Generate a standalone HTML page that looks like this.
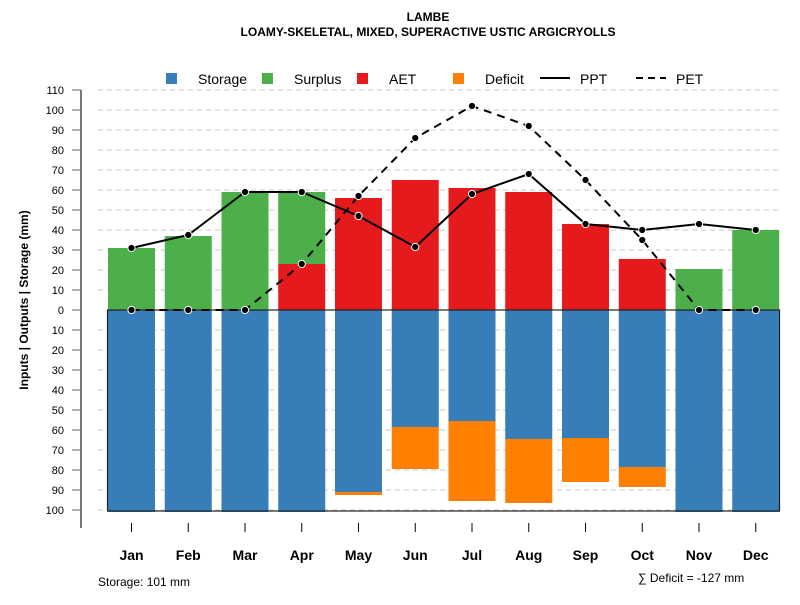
<!DOCTYPE html>
<html><head><meta charset="utf-8"><style>
body{margin:0;background:#fff;}
svg text{font-family:"Liberation Sans",Arial,sans-serif;}
</style></head><body>
<svg id="chart" width="800" height="600" xmlns="http://www.w3.org/2000/svg">
<text x="428" y="21" font-size="12" font-weight="bold" text-anchor="middle">LAMBE</text>
<text x="428" y="36" font-size="12" font-weight="bold" text-anchor="middle">LOAMY-SKELETAL, MIXED, SUPERACTIVE USTIC ARGICRYOLLS</text>
<g id="legend">
<rect x="166" y="73" width="11" height="11" fill="#377eb8"/><text x="198" y="84" font-size="14">Storage</text>
<rect x="262" y="73" width="11" height="11" fill="#4daf4a"/><text x="294" y="84" font-size="14">Surplus</text>
<rect x="357" y="73" width="11" height="11" fill="#e41a1c"/><text x="389" y="84" font-size="14">AET</text>
<rect x="453" y="73" width="11" height="11" fill="#ff7f00"/><text x="485" y="84" font-size="14">Deficit</text>
<line x1="540" y1="78" x2="570" y2="78" stroke="#000" stroke-width="2"/><text x="580" y="84" font-size="14">PPT</text>
<line x1="636" y1="78" x2="666" y2="78" stroke="#000" stroke-width="2" stroke-dasharray="7,5"/><text x="676" y="84" font-size="14">PET</text>
</g>
<g id="grid"></g><g id="bars"></g><g id="lines"></g><g id="axes"></g>
<text transform="translate(28,300) rotate(-90)" font-size="12" font-weight="bold" text-anchor="middle">Inputs | Outputs | Storage    (mm)</text>
<text x="98" y="586" font-size="12">Storage: 101 mm</text>
<text x="638" y="582" font-size="12">∑ Deficit = -127 mm</text>
</svg>
<script>
const months=["Jan","Feb","Mar","Apr","May","Jun","Jul","Aug","Sep","Oct","Nov","Dec"];
const storage=[101,101,101,101,91,58.5,55.5,64.5,64,78.5,101,101];
const deficit=[0,0,0,0,1.5,21,40,32,22,10,0,0];
const aet=[0,0,0,23,56,65,61,59,43,25.5,0,0];
const surplus=[31,37,59,36,0,0,0,0,0,0,20.5,40];
const ppt=[31,37.5,59,59,47,31.5,58,68,43,40,43,40];
const pet=[0,0,0,23,57,86,102,92,65,35,0,0];
const tickVals=[110,100,90,80,70,60,50,40,30,20,10,0,-10,-20,-30,-40,-50,-60,-70,-80,-90,-100];
const NS="http://www.w3.org/2000/svg";
function X(i){return 131.5+56.75*i;}
function Y(v){return 310-2*v;}
function mk(p,t,a){const e=document.createElementNS(NS,t);for(const k in a)e.setAttribute(k,a[k]);document.getElementById(p).appendChild(e);return e;}
tickVals.forEach(v=>{
  if(v!==0){const g=mk('grid','line',{x1:98,x2:780,y1:Y(v),y2:Y(v),stroke:'#c8c8c8','stroke-dasharray':'5,4'});
  
  }
  const t=mk('axes','line',{x1:72,x2:81,y1:Y(v),y2:Y(v),stroke:'#666'});
  
  
  const l=mk('axes','text',{x:64,y:Y(v)+4,'font-size':11,'text-anchor':'end'});
  l.textContent=Math.abs(v);
  
  
});
const ax=mk('axes','line',{x1:81,x2:81,y1:Y(110),y2:528,stroke:'#777','stroke-width':2});


const W=47;
months.forEach((m,i)=>{
  const x=X(i)-W/2;
  const s=mk('bars','rect',{x:x,y:310,width:W,height:2*storage[i],fill:'#377eb8'});
  
  
  if(deficit[i]>0){const d=mk('bars','rect',{x:x,y:310+2*storage[i],width:W,height:2*deficit[i],fill:'#ff7f00'});
  
  }
  if(aet[i]>0){const a=mk('bars','rect',{x:x,y:Y(aet[i]),width:W,height:2*aet[i],fill:'#e41a1c'});
  
  }
  if(surplus[i]>0){const su=mk('bars','rect',{x:x,y:Y(aet[i]+surplus[i]),width:W,height:2*surplus[i],fill:'#4daf4a'});
  
  }
  const tk=mk('axes','line',{x1:X(i),x2:X(i),y1:523,y2:532,stroke:'#000'});
  
  
  const lb=mk('axes','text',{x:X(i),y:560,'font-size':14,'font-weight':'bold','text-anchor':'middle'});
  lb.textContent=m;
  
  
});
const box=mk('bars','rect',{x:107.5,y:310,width:672,height:201,fill:'none',stroke:'#222','stroke-width':1.2});


function series(arr,dash,name){
  const pts=arr.map((v,i)=>X(i)+','+Y(v)).join(' ');
  const a={points:pts,fill:'none',stroke:'#000','stroke-width':2};
  if(dash)a['stroke-dasharray']='8,6';
  const pl=mk('lines','polyline',a);
  
  
  arr.forEach((v,i)=>{const c=mk('lines','circle',{cx:X(i),cy:Y(v),r:3.6,fill:'#000',stroke:'#fff','stroke-width':1});
  
  });
}
series(pet,true,'pet');
series(ppt,false,'ppt');
</script>
</body></html>
